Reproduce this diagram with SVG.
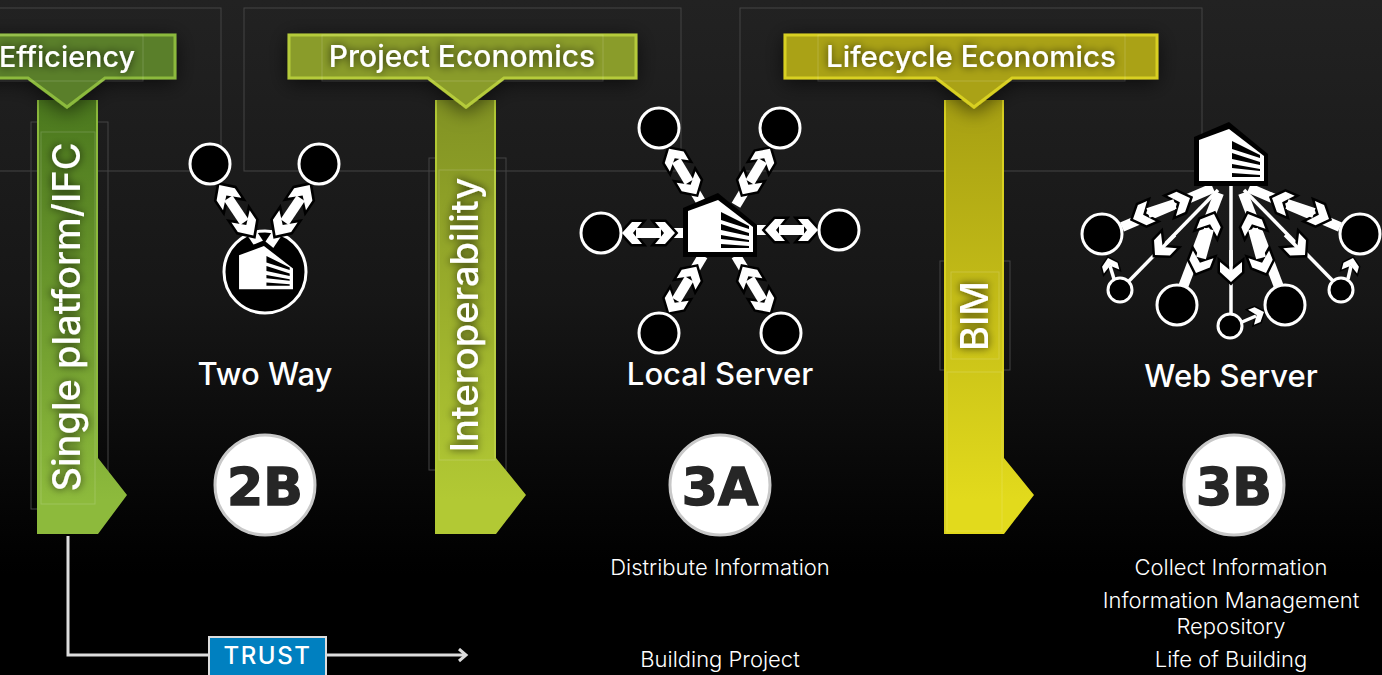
<svg xmlns="http://www.w3.org/2000/svg" xmlns:xlink="http://www.w3.org/1999/xlink" width="1382" height="675" viewBox="0 0 1382 675">
<style>
text{font-family:Inter,"Liberation Sans",sans-serif;fill:#fff}
.frame{fill:none;stroke:#444;stroke-width:1}
.inner{fill:none;stroke:#fff;stroke-opacity:.16;stroke-width:1}
.head{font-size:30px;font-weight:500;text-anchor:middle;filter:url(#glow)}
.vert{font-size:38px;font-weight:500;text-anchor:middle;filter:url(#glow)}
.title{font-size:31px;font-weight:500;text-anchor:middle}
.sub{font-size:22px;font-weight:300;text-anchor:middle}
.badge{fill:#fff;stroke:#c8c8c8;stroke-width:3}
.badgetxt{font-family:"DejaVu Sans",sans-serif;font-size:52px;font-weight:700;text-anchor:middle;fill:#262626;stroke:#262626;stroke-width:1.5}
.node{fill:#000;stroke:#fff;stroke-width:3}
.ln{stroke:#fff;stroke-width:10;fill:none}
.thin{stroke:#fff;stroke-width:3.5;fill:none}
.chv{fill:#fff;stroke:#000;stroke-width:5;stroke-miterlimit:8;paint-order:stroke}
</style>
<defs>
<linearGradient id="bg" x1="0" y1="0" x2="0" y2="1"><stop offset="0" stop-color="#222"/><stop offset=".45" stop-color="#161616"/><stop offset=".75" stop-color="#050505"/><stop offset=".85" stop-color="#000"/></linearGradient>
<linearGradient id="gGreen" gradientUnits="userSpaceOnUse" x1="0" y1="80" x2="0" y2="500"><stop offset="0" stop-color="#47741c"/><stop offset="1" stop-color="#8dba3c"/></linearGradient>
<linearGradient id="gOlive" gradientUnits="userSpaceOnUse" x1="0" y1="80" x2="0" y2="500"><stop offset="0" stop-color="#7f8f22"/><stop offset="1" stop-color="#b2c934"/></linearGradient>
<linearGradient id="gYellow" gradientUnits="userSpaceOnUse" x1="0" y1="80" x2="0" y2="500"><stop offset="0" stop-color="#a39c12"/><stop offset="1" stop-color="#e2da1c"/></linearGradient>
<filter id="glow" x="-20%" y="-40%" width="140%" height="180%"><feDropShadow dx="0" dy="0" stdDeviation="4" flood-color="#000" flood-opacity=".75"/></filter>
<filter id="soft" x="-15%" y="-40%" width="130%" height="180%"><feDropShadow dx="0" dy="4" stdDeviation="10" flood-color="#000" flood-opacity=".6"/></filter>
<marker id="open" markerUnits="userSpaceOnUse" markerWidth="14" markerHeight="16" refX="10" refY="7" orient="auto"><path d="M3 1L10 7L3 13" fill="none" stroke="#ddd" stroke-width="3"/></marker>
<g id="bld">
<polygon points="683,208 718,193 757,225 757,257 683,257" fill="#000"/>
<polygon points="688,211 718,200 753,227 753,252 688,252" fill="#fff"/>
<polygon points="721,212 749,226 749,229 721,220" fill="#000"/>
<polygon points="721,224 749,233 749,236 721,230" fill="#000"/>
<polygon points="721,235 749,240 749,242 721,239" fill="#000"/>
<polygon points="721,244 749,246 749,248 721,248" fill="#000"/>
</g>
<polygon id="chev" class="chv" points="0,0 -10,-11 -20,-11 -11,0 -20,11 -10,11"/>
<g id="dbl">
<line class="ln" x1="50" y1="0" x2="68" y2="0"/>
<use xlink:href="#chev" href="#chev" transform="translate(2,0) rotate(180)"/>
<use xlink:href="#chev" href="#chev" transform="translate(55,0)"/>
<line class="ln" x1="16" y1="0" x2="41" y2="0"/>
</g>
<polygon id="chevS" class="chv" points="0,0 -7,-8 -14,-8 -8,0 -14,8 -7,8" style="stroke-width:3"/>
</defs>
<rect id="background" width="1382" height="675" fill="url(#bg)"/>
<g id="frames">
<rect class="frame" x="-20" y="8" width="241" height="163"/>
<rect class="frame" x="244" y="8" width="437" height="163"/>
<rect class="frame" x="740" y="8" width="462" height="163"/>
</g>

<g id="node-two-way-hub"><circle class="node" cx="265" cy="272" r="41"/></g>

<g id="connectors">
<path d="M68 536V655H466" fill="none" stroke="#ddd" stroke-width="3" marker-end="url(#open)"/>
<!-- two way -->
<use xlink:href="#dbl" href="#dbl" transform="translate(218,183) rotate(56) scale(1.15,1)"/>
<use xlink:href="#dbl" href="#dbl" transform="translate(311,183) rotate(124) scale(1.15,1)"/>
<!-- local server -->
<use xlink:href="#dbl" href="#dbl" transform="translate(620,233)"/>
<use xlink:href="#dbl" href="#dbl" transform="translate(820,230) rotate(180)"/>
<use xlink:href="#dbl" href="#dbl" transform="translate(668,147) rotate(59)"/>
<use xlink:href="#dbl" href="#dbl" transform="translate(771,147) rotate(121)"/>
<use xlink:href="#dbl" href="#dbl" transform="translate(668,314) rotate(-59)"/>
<use xlink:href="#dbl" href="#dbl" transform="translate(771,314) rotate(-121)"/>
<!-- web server -->
<line class="ln" x1="1122" y1="227" x2="1213" y2="188"/>
<line class="ln" x1="1340" y1="227" x2="1249" y2="188"/>
<line class="ln" x1="1183" y1="287" x2="1219" y2="193"/>
<line class="ln" x1="1279" y1="287" x2="1243" y2="193"/>
<line class="thin" x1="1231" y1="186" x2="1231" y2="314"/>
<line class="thin" x1="1128" y1="282" x2="1218" y2="190"/>
<line class="thin" x1="1334" y1="282" x2="1244" y2="190"/>
<use xlink:href="#chev" href="#chev" transform="translate(1133,219) rotate(157)"/>
<use xlink:href="#chev" href="#chev" transform="translate(1190,198) rotate(-23)"/>
<use xlink:href="#chev" href="#chev" transform="translate(1329,219) rotate(23)"/>
<use xlink:href="#chev" href="#chev" transform="translate(1272,198) rotate(-157)"/>
<use xlink:href="#chev" href="#chev" transform="translate(1196,273) rotate(111)"/>
<use xlink:href="#chev" href="#chev" transform="translate(1214,214) rotate(-69)"/>
<use xlink:href="#chev" href="#chev" transform="translate(1266,273) rotate(69)"/>
<use xlink:href="#chev" href="#chev" transform="translate(1248,214) rotate(-111)"/>
<use xlink:href="#chev" href="#chev" transform="translate(1231,282) rotate(90)"/>
<use xlink:href="#chev" href="#chev" transform="translate(1155,255) rotate(134)"/>
<use xlink:href="#chev" href="#chev" transform="translate(1305,255) rotate(46)"/>
<line class="ln" x1="1148" y1="213" x2="1175" y2="204"/>
<line class="ln" x1="1314" y1="213" x2="1287" y2="204"/>
<line class="ln" x1="1201" y1="258" x2="1209" y2="229"/>
<line class="ln" x1="1261" y1="258" x2="1253" y2="229"/>
<line class="thin" x1="1231" y1="250" x2="1231" y2="271"/>
<line class="thin" x1="1161" y1="249" x2="1175" y2="235"/>
<line class="thin" x1="1299" y1="249" x2="1285" y2="235"/>
<use xlink:href="#chevS" href="#chevS" transform="translate(1108,258) rotate(-105)"/>
<line class="thin" x1="1114" y1="279" x2="1110" y2="266"/>
<use xlink:href="#chevS" href="#chevS" transform="translate(1353,258) rotate(-75)"/>
<line class="thin" x1="1348" y1="279" x2="1351" y2="266"/>
<use xlink:href="#chevS" href="#chevS" transform="translate(1264,312) rotate(-22)"/>
<line class="thin" x1="1242" y1="322" x2="1256" y2="316"/>
</g>

<g id="col-single-platform">
<rect class="frame" x="31" y="122" width="77" height="387"/>
<polygon points="37,100 98,100 98,458 127,495 98,534 37,534" fill="url(#gGreen)"/>
<path d="M38 100V534M97 100V458" stroke="#8cba3c" stroke-width="2" fill="none"/>
<rect class="inner" x="41" y="132" width="54" height="372"/>
<text class="vert" transform="translate(80,317) rotate(-90)">Single platform/IFC</text>
</g>
<g id="head-efficiency">
<polygon points="-60,35 175,35 175,78 105,78 67,107 28,78 -60,78" fill="#5a7f2a" stroke="#8cba3c" stroke-width="3" filter="url(#soft)"/>
<rect class="inner" x="-50" y="35" width="193" height="46"/>
<text class="head" x="67" y="67" style="font-size:28.800px">Efficiency</text>
</g>

<g id="col-interoperability">
<rect class="frame" x="429" y="158" width="77" height="312"/>
<polygon points="435,100 496,100 496,458 526,495 496,534 435,534" fill="url(#gOlive)"/>
<path d="M436 100V534M495 100V458" stroke="#b2c934" stroke-width="2" fill="none"/>
<rect class="inner" x="439" y="170" width="56" height="290"/>
<text class="vert" transform="translate(478,315) rotate(-90)">Interoperability</text>
</g>
<g id="head-project">
<polygon points="289,35 636,35 636,78 504,78 466,107 428,78 289,78" fill="#8a9c2a" stroke="#b5cb3a" stroke-width="3" filter="url(#soft)"/>
<rect class="inner" x="322" y="35" width="281" height="46"/>
<text class="head" x="462" y="67">Project Economics</text>
</g>

<g id="col-bim">
<rect class="frame" x="940" y="261" width="70" height="109"/>
<polygon points="944,100 1004,100 1004,458 1034,495 1004,534 944,534" fill="url(#gYellow)"/>
<path d="M945 100V534M1003 100V458" stroke="#d8d020" stroke-width="2" fill="none"/>
<rect class="inner" x="951" y="272" width="48" height="87"/>
<rect class="inner" x="947" y="372" width="55" height="159"/>
<text class="vert" transform="translate(988,316) rotate(-90)">BIM</text>
</g>
<g id="head-lifecycle">
<polygon points="785,35 1157,35 1157,78 1012,78 974,107 936,78 785,78" fill="#aaa214" stroke="#d8d020" stroke-width="3" filter="url(#soft)"/>
<rect class="inner" x="818" y="35" width="307" height="46"/>
<text class="head" x="971" y="67" style="font-size:29.600px">Lifecycle Economics</text>
</g>

<g id="node-two-way">
<circle class="node" cx="210" cy="164" r="20"/>
<circle class="node" cx="319" cy="164" r="20"/>
<use xlink:href="#bld" href="#bld" transform="translate(-332,80) scale(.83)"/>
<text class="title" x="265" y="385">Two Way</text>
</g>
<g id="badge-2b"><circle class="badge" cx="265" cy="485" r="50"/><text class="badgetxt" x="265" y="505">2B</text></g>

<g id="node-local-server">
<circle class="node" cx="659" cy="128" r="20"/>
<circle class="node" cx="780" cy="128" r="20"/>
<circle class="node" cx="601" cy="233" r="20"/>
<circle class="node" cx="839" cy="230" r="20"/>
<circle class="node" cx="659" cy="333" r="20"/>
<circle class="node" cx="781" cy="333" r="20"/>
<use xlink:href="#bld" href="#bld"/>
<text class="title" x="720" y="385">Local Server</text>
</g>
<g id="badge-3a"><circle class="badge" cx="720" cy="485" r="50"/><text class="badgetxt" x="720" y="505">3A</text></g>
<g id="labels-3a">
<text class="sub" x="720" y="575">Distribute Information</text>
<text class="sub" x="720" y="667">Building Project</text>
</g>

<g id="node-web-server">
<circle class="node" cx="1102" cy="234" r="20"/>
<circle class="node" cx="1360" cy="234" r="20"/>
<circle class="node" cx="1177" cy="305" r="20"/>
<circle class="node" cx="1285" cy="305" r="20"/>
<circle class="node" cx="1120" cy="290" r="12"/>
<circle class="node" cx="1341" cy="290" r="12"/>
<circle class="node" cx="1230" cy="326" r="12"/>
<use xlink:href="#bld" href="#bld" transform="translate(511,-71)"/>
<text class="title" x="1231" y="387">Web Server</text>
</g>
<g id="badge-3b"><circle class="badge" cx="1234" cy="485" r="50"/><text class="badgetxt" x="1234" y="505">3B</text></g>
<g id="labels-3b">
<text class="sub" x="1231" y="575">Collect Information</text>
<text class="sub" x="1231" y="608">Information Management</text>
<text class="sub" x="1231" y="634">Repository</text>
<text class="sub" x="1231" y="667">Life of Building</text>
</g>

<g id="trust">
<rect x="209" y="637" width="117" height="42" fill="#0080c0" stroke="#ddd" stroke-width="2"/>
<text x="267.500" y="664" font-size="24" font-weight="500" letter-spacing="1.6" text-anchor="middle">TRUST</text>
</g>
</svg>
